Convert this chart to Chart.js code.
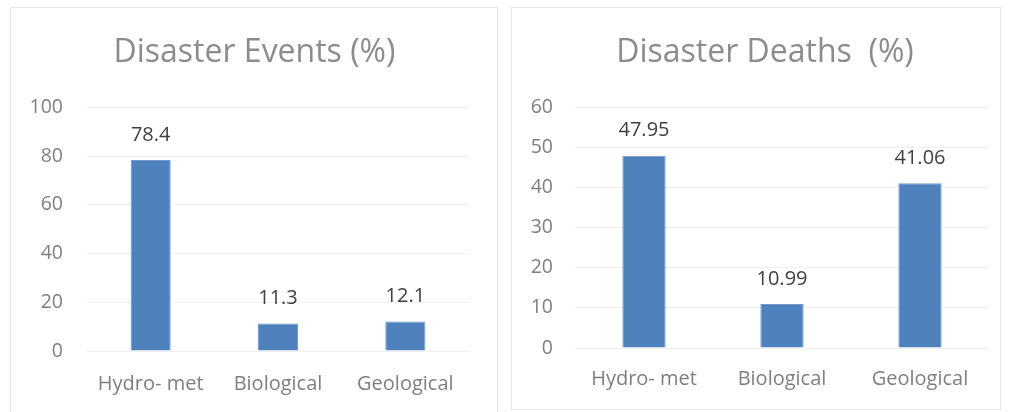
<!DOCTYPE html>
<html>
<head>
<meta charset="utf-8">
<script src="https://cdn.jsdelivr.net/npm/chart.js@4/dist/chart.umd.min.js"></script>
<style>
  html, body { margin: 0; padding: 0; background: #ffffff; }
  body { width: 1009px; height: 412px; position: relative; overflow: hidden; }
  .panel { position: absolute; border: 1px solid #e6e6e6; box-sizing: border-box; background: #fff; }
  .panel canvas { position: absolute; left: 0; top: 0; }
</style>
</head>
<body>
<div class="panel" id="p1" style="left:10px; top:7px; width:488px; height:406px;"><canvas id="c1"></canvas></div>
<div class="panel" id="p2" style="left:511px; top:7px; width:490px; height:403px;"><canvas id="c2"></canvas></div>
<script>
const categories = ["Hydro- met", "Biological", "Geological"];
const eventsValues = [78.4, 11.3, 12.1];
const eventsLabels = ["78.4", "11.3", "12.1"];
const deathsValues = [47.95, 10.99, 41.06];
const deathsLabels = ["47.95", "10.99", "41.06"];
const eventsTicks = [0, 20, 40, 60, 80, 100];
const deathsTicks = [0, 10, 20, 30, 40, 50, 60];
const eventsTitle = "Disaster Events (%)";
const deathsTitle = "Disaster Deaths  (%)";

const FONT = "'Open Sans', 'Noto Sans', sans-serif";
const BAR = "#4f81bd";

const valueLabelPlugin = {
  id: 'valueLabels',
  afterDatasetsDraw(chart, args, opts) {
    const ctx = chart.ctx;
    const meta = chart.getDatasetMeta(0);
    ctx.save();
    ctx.font = "20px " + FONT;
    ctx.fillStyle = "#404040";
    ctx.textAlign = "center";
    ctx.textBaseline = "middle";
    meta.data.forEach((bar, i) => {
      ctx.fillText(opts.labels[i], bar.x, bar.y - 25);
    });
    ctx.restore();
  }
};

function makeChart(id, w, h, values, labels, ticks, title, cfg) {
  const canvas = document.getElementById(id);
  canvas.width = w; canvas.height = h;
  canvas.style.width = w + "px"; canvas.style.height = h + "px";
  return new Chart(canvas, {
    type: 'bar',
    data: {
      labels: categories,
      datasets: [{
        data: values,
        backgroundColor: BAR,
        borderColor: "#6f9ad0",
        borderWidth: 1,
        barPercentage: cfg.barPct,
        categoryPercentage: 1.0,
        yAxisID: 'y'
      }]
    },
    options: {
      responsive: false,
      animation: false,
      devicePixelRatio: 1,
      layout: { padding: { left: cfg.padLeft, right: 0, top: 0, bottom: 0 } },
      plugins: {
        legend: { display: false },
        tooltip: { enabled: false },
        title: {
          display: true,
          text: title,
          color: "#8c8c8c",
          font: { family: FONT, size: 32, weight: 'normal' },
          padding: { top: cfg.titleTop, bottom: cfg.titleBottom }
        },
        valueLabels: { labels: labels }
      },
      scales: {
        x: {
          grid: { display: false, drawTicks: false },
          border: { display: false },
          ticks: { color: "#7f7f7f", font: { family: FONT, size: 20 }, padding: cfg.xPad },
          afterFit(scale) { scale.height = cfg.xHeight; }
        },
        y: {
          position: 'left',
          min: ticks[0], max: ticks[ticks.length - 1],
          afterBuildTicks(scale) { scale.ticks = ticks.map(v => ({ value: v })); },
          grid: { color: "#f0f0f0", lineWidth: 1, drawTicks: false },
          border: { display: false },
          ticks: { color: "#7f7f7f", font: { family: FONT, size: 19.5 }, padding: cfg.yPad },
          afterFit(scale) { scale.width = cfg.yWidth; }
        },
        yRight: {
          position: 'right',
          min: ticks[0], max: ticks[ticks.length - 1],
          grid: { display: false, drawTicks: false },
          border: { display: false },
          ticks: { display: false },
          afterFit(scale) { scale.width = cfg.rightWidth; }
        }
      }
    },
    plugins: [valueLabelPlugin]
  });
}

makeChart('c1', 486, 404, eventsValues, eventsLabels, eventsTicks, eventsTitle,
  { barPct: 0.315, padLeft: 1, rightWidth: 28, titleTop: 26, titleBottom: 35, xHeight: 61, yWidth: 75, xPad: 21, yPad: 24 });
makeChart('c2', 488, 401, deathsValues, deathsLabels, deathsTicks, deathsTitle,
  { barPct: 0.314, padLeft: 18, rightWidth: 11, titleTop: 26, titleBottom: 35, xHeight: 61, yWidth: 45, xPad: 19, yPad: 22 });
</script>
</body>
</html>
